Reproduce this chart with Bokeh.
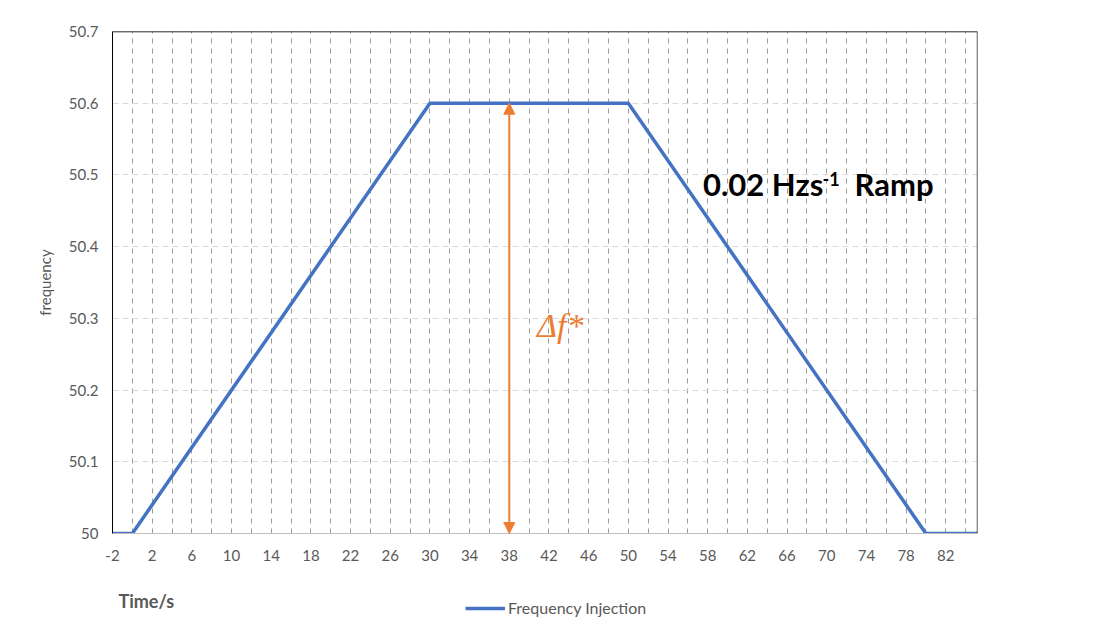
from bokeh.plotting import figure
from bokeh.layouts import column
from bokeh.models import (FixedTicker, Label, Arrow, NormalHead, Legend, LegendItem,
                          ColumnDataSource, Range1d, Span)
from bokeh.embed import file_html
from bokeh.resources import INLINE

# data
time_s = [-2, 0, 30, 50, 80, 85.2]
frequency = [50.0, 50.0, 50.6, 50.6, 50.0, 50.0]
x_label_ticks = list(range(-2, 83, 4))
x_tick_labels = [str(v) for v in x_label_ticks]
x_grid_ticks = list(range(0, 85, 2))
y_ticks = [50.0, 50.1, 50.2, 50.3, 50.4, 50.5, 50.6, 50.7]
y_tick_labels = ["50", "50.1", "50.2", "50.3", "50.4", "50.5", "50.6", "50.7"]
arrow_x = 38
arrow_y = [50.0, 50.6]

FONT = "Lato"
GREY = "#595959"

p = figure(width=1099, height=572, output_backend="svg", toolbar_location=None,
           x_range=Range1d(-2, 85.2), y_range=Range1d(50.0, 50.7),
           min_border_left=112, min_border_right=122, min_border_top=31,
           min_border_bottom=39)
p.outline_line_color = "#d9d9d9"
p.outline_line_width = 1
p.background_fill_color = "white"
p.border_fill_color = "white"

# axes
p.xaxis.ticker = FixedTicker(ticks=x_label_ticks)
p.xaxis.major_label_overrides = {v: s for v, s in zip(x_label_ticks, x_tick_labels)}
p.yaxis.ticker = FixedTicker(ticks=y_ticks)
p.yaxis.major_label_overrides = {v: s for v, s in zip(y_ticks, y_tick_labels)}
for ax in (p.xaxis[0], p.yaxis[0]):
    ax.major_tick_out = 0
    ax.major_tick_in = 0
    ax.minor_tick_out = 0
    ax.minor_tick_in = 0
    ax.major_label_text_font = FONT
    ax.major_label_text_font_size = "15px"
    ax.major_label_text_color = GREY
p.xaxis.axis_line_color = "#bfbfbf"
p.yaxis.axis_line_color = "black"
p.xaxis.major_label_standoff = 16
p.yaxis.major_label_standoff = 14
p.yaxis.axis_label = "frequency"
p.yaxis.axis_label_text_font = FONT
p.yaxis.axis_label_text_font_size = "15px"
p.yaxis.axis_label_text_font_style = "normal"
p.yaxis.axis_label_text_color = GREY
p.yaxis.axis_label_standoff = 12

# grids
p.xgrid.ticker = FixedTicker(ticks=x_grid_ticks)
p.xgrid.grid_line_color = "#9a9a9a"
p.xgrid.grid_line_dash = "5 5"
p.xgrid.grid_line_width = 1
p.ygrid.ticker = FixedTicker(ticks=y_ticks)
p.ygrid.grid_line_color = "#d9d9d9"
p.ygrid.grid_line_dash = "6 4"
p.ygrid.grid_line_width = 1

# frame borders (top, right)
p.add_layout(Span(location=50.7, dimension="width", line_color="black", line_width=1.5))
p.add_layout(Span(location=85.2, dimension="height", line_color="#404040", line_width=1.5))

src = ColumnDataSource(dict(x=time_s, y=frequency))
line_style = dict(line_color="#4472C4", line_width=3.5)
r = p.line("x", "y", source=src, **line_style)

p.add_layout(Arrow(x_start=arrow_x, y_start=arrow_y[0], x_end=arrow_x, y_end=arrow_y[1],
                   line_color="#ED7D31", line_width=2,
                   start=NormalHead(size=11, fill_color="#ED7D31", line_color="#ED7D31"),
                   end=NormalHead(size=11, fill_color="#ED7D31", line_color="#ED7D31")))

p.add_layout(Label(x=40.8, y=50.29, text="Δf*", text_font="Liberation Serif",
                   text_font_style="italic", text_font_size="34px", text_color="#ED7D31",
                   text_baseline="alphabetic"))

p.add_layout(Label(x=57.53, y=50.461, text="0.02 Hzs", text_font=FONT,
                   text_font_style="bold", text_font_size="31px", text_color="black"))
p.add_layout(Label(x=69.58, y=50.484, text="-1", text_font=FONT,
                   text_font_style="bold", text_font_size="18px", text_color="black"))
p.add_layout(Label(x=72.8, y=50.461, text="Ramp", text_font=FONT,
                   text_font_style="bold", text_font_size="31px", text_color="black"))

# bottom strip: axis title and legend (frame aligned with main frame: 112..977 px)
f2 = figure(width=1099, height=60, output_backend="svg", toolbar_location=None,
            x_range=Range1d(112, 977), y_range=Range1d(0, 60),
            min_border_left=112, min_border_right=122, min_border_top=0, min_border_bottom=0)
f2.axis.visible = False
f2.grid.visible = False
f2.outline_line_color = None
r2 = f2.line("x", "y", source=src, visible=False, **line_style)

f2.add_layout(Label(x=118, y=32, text="Time/s", text_font=FONT, text_font_style="bold",
                    text_font_size="18px", text_color=GREY, text_baseline="middle"))

legend = Legend(items=[LegendItem(label="Frequency Injection", renderers=[r2])],
                location=(353, 15), orientation="horizontal",
                label_text_font=FONT, label_text_font_size="16px", label_text_color=GREY,
                glyph_width=40, glyph_height=16, label_height=16,
                label_standoff=3, padding=0, margin=0, spacing=0,
                border_line_color=None, background_fill_alpha=0)
f2.add_layout(legend, "center")

open("out.html", "w").write(file_html(column(p, f2, spacing=0), INLINE))
